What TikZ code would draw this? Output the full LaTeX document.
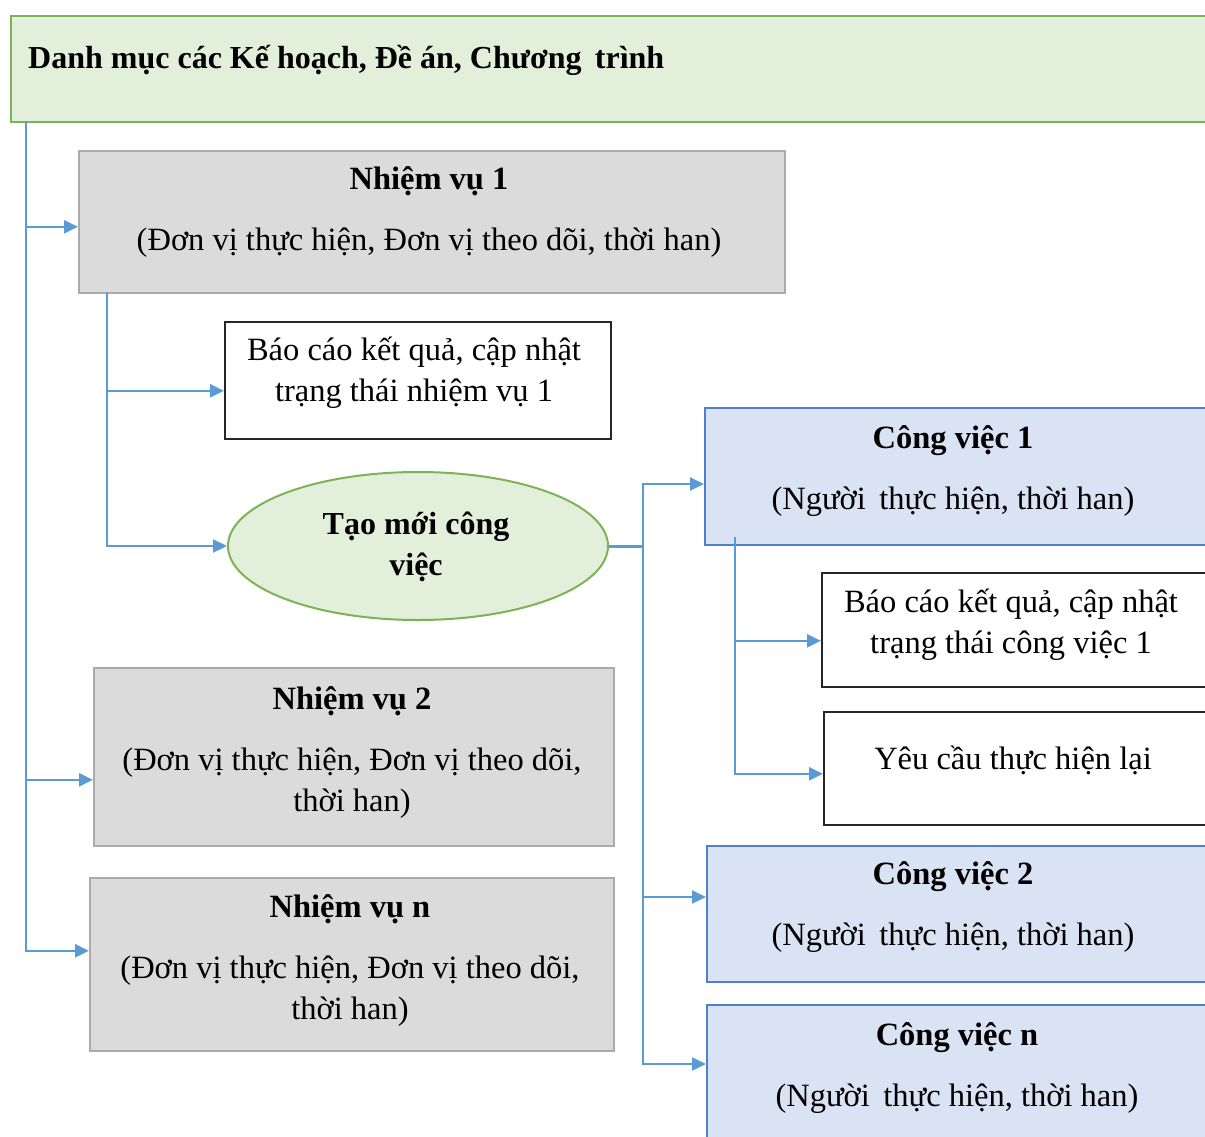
\documentclass[tikz,border=0pt]{standalone}
\usepackage{fontspec}
\setmainfont{Liberation Serif}
\usetikzlibrary{arrows.meta,shapes.geometric}

\definecolor{greenfill}{HTML}{E2EFDA}
\definecolor{greenline}{HTML}{7DB356}
\definecolor{grayfill}{HTML}{DBDBDB}
\definecolor{grayline}{HTML}{ABABAB}
\definecolor{bluefill}{HTML}{DAE3F3}
\definecolor{blueline}{HTML}{4F7FCF}
\definecolor{linkcol}{HTML}{5B9BD5}

\tikzset{
  box/.style={draw, line width=1.6pt, anchor=north west, inner sep=0pt},
  headbox/.style={box, fill=greenfill, draw=greenline},
  taskbox/.style={box, fill=grayfill, draw=grayline},
  jobbox/.style={box, fill=bluefill, draw=blueline, line width=2pt},
  notebox/.style={box, fill=white, draw=black!85},
  oval/.style={ellipse, draw=greenline, line width=2pt, fill=greenfill, inner sep=0pt},
  txt/.style={font=\fontsize{32.5}{41}\selectfont, align=center, inner sep=0pt},
  link/.style={draw=linkcol, line width=2.2pt},
  arr/.style={link, -{Triangle[length=14pt,width=13pt]}}
}

\begin{document}
\begin{tikzpicture}[x=1pt,y=1pt]
\useasboundingbox (0,0) rectangle (1205,-1136);
\fill[white] (0,0) rectangle (1205,-1136);

\begin{scope}
\clip (0,0) rectangle (1205,-1136);

% header
\node[headbox, minimum width=1210pt, minimum height=106pt] (head) at (10,-15) {};
\node[txt, anchor=west, font=\fontsize{32}{40}\selectfont\bfseries] (headtxt) at (28,-60)
  {Danh mục các Kế hoạch, Đề án, Chương\, trình};

% tasks
\node[taskbox, minimum width=706pt, minimum height=142pt] (nv1) at (78,-150) {};
\node[txt] (nv1txt) at (429,-212) {\textbf{Nhiệm vụ 1}\\[20pt](Đơn vị thực hiện, Đơn vị theo dõi, thời han)};

\node[notebox, minimum width=386pt, minimum height=117pt] (bc1) at (224,-321) {};
\node[txt] (bc1txt) at (414,-373) {Báo cáo kết quả, cập nhật\\trạng thái nhiệm vụ 1};

\node[oval, minimum width=380pt, minimum height=148pt] (tm) at (418,-546) {};
\node[txt, font=\fontsize{32}{41}\selectfont\bfseries] (tmtxt) at (416,-547) {Tạo mới công\\việc};

\node[taskbox, minimum width=520pt, minimum height=178pt] (nv2) at (93,-667) {};
\node[txt] (nv2txt) at (352,-752) {\textbf{Nhiệm vụ 2}\\[20pt](Đơn vị thực hiện, Đơn vị theo dõi,\\thời han)};

\node[taskbox, minimum width=524pt, minimum height=173pt] (nvn) at (89,-877) {};
\node[txt] (nvntxt) at (350,-960) {\textbf{Nhiệm vụ n}\\[20pt](Đơn vị thực hiện, Đơn vị theo dõi,\\thời han)};

% jobs
\node[jobbox, minimum width=520pt, minimum height=137pt] (cv1) at (704,-407) {};
\node[txt] (cv1txt) at (953,-471) {\textbf{Công việc 1}\\[20pt](Người\, thực hiện, thời han)};

\node[notebox, minimum width=400pt, minimum height=114pt] (bc2) at (821,-572) {};
\node[txt] (bc2txt) at (1011,-625) {Báo cáo kết quả, cập nhật\\trạng thái công việc 1};

\node[notebox, minimum width=400pt, minimum height=113pt] (yc) at (823,-711) {};
\node[txt] (yctxt) at (1013,-760) {Yêu cầu thực hiện lại};

\node[jobbox, minimum width=520pt, minimum height=136pt] (cv2) at (706,-845) {};
\node[txt] (cv2txt) at (953,-907) {\textbf{Công việc 2}\\[20pt](Người\, thực hiện, thời han)};

\node[jobbox, minimum width=520pt, minimum height=140pt] (cvn) at (706,-1004) {};
\node[txt] (cvntxt) at (957,-1068) {\textbf{Công việc n}\\[20pt](Người\, thực hiện, thời han)};

% connectors from the header
\coordinate (trunk) at (26,-121);
\draw[arr] (trunk) |- ([yshift=-5pt]nv1.west);
\draw[arr] (trunk) |- ([yshift=-23pt]nv2.west);
\draw[arr] (trunk) |- ([yshift=13.5pt]nvn.west);

% connectors from task 1
\coordinate (t1) at (107,-292);
\draw[arr] (t1) |- ([yshift=-10.5pt]bc1.west);
\draw[arr] (t1) |- (tm.west);

% connectors from the new-job oval
\coordinate (hub) at (643,-546);
\draw[link, line width=3pt] (tm.east) -- (hub);
\draw[arr] (hub) |- ([yshift=-7.5pt]cv1.west);
\draw[arr] (hub) |- ([yshift=17pt]cv2.west);
\draw[arr] (hub) |- ([yshift=11pt]cvn.west);

% connectors from job 1
\coordinate (j1) at (735,-537);
\draw[arr] (j1) |- ([yshift=-11pt]bc2.west);
\draw[arr] (j1) |- ([yshift=-5.5pt]yc.west);
\end{scope}
\end{tikzpicture}
\end{document}
